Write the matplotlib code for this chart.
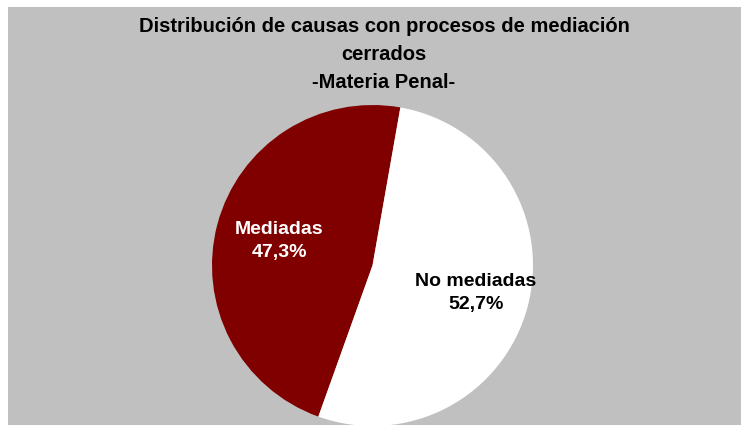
import numpy as np
import matplotlib.pyplot as plt
from matplotlib.patches import Rectangle

# Datos
categorias = ["Mediadas", "No mediadas"]
porcentajes = [47.3, 52.7]
colores = ["#800000", "#FFFFFF"]
colores_texto = ["white", "black"]
titulo = "Distribución de causas con procesos de mediación\ncerrados\n-Materia Penal-"

plt.rcParams['font.family'] = ['Liberation Sans', 'DejaVu Sans']

W, H = 741, 425
fig = plt.figure(figsize=(W / 100, H / 100), dpi=100, facecolor="white")

# Fondo gris
fig.patches.append(Rectangle((8 / W, 0), 1, 1 - 7 / H, transform=fig.transFigure,
                             facecolor="#C0C0C0", edgecolor="none", zorder=-10))

# Título
fig.text(384 / W, 1 - 54.5 / H, titulo, ha="center", va="center", fontsize=14.5,
         fontweight="bold", linespacing=1.6)

# Ejes del pastel (centro y radio en píxeles)
cx, cy, r = 372.5, 265.5, 160.5
ax = fig.add_axes([(cx - r) / W, (H - cy - r) / H, 2 * r / W, 2 * r / H])
ax.set_facecolor("none")
ax.set_zorder(1)

wedges, _ = ax.pie(porcentajes, colors=colores, startangle=80, counterclock=True,
                   wedgeprops=dict(linewidth=0))
ax.set_xlim(-1, 1)
ax.set_ylim(-1, 1)
ax.axis("off")

# Etiquetas
distancias = [0.6, 0.665]
for w, cat, p, c, d in zip(wedges, categorias, porcentajes, colores_texto, distancias):
    ang = np.deg2rad((w.theta1 + w.theta2) / 2)
    ax.text(d * np.cos(ang), d * np.sin(ang), f"{cat}\n{p:.1f}%".replace(".", ","),
            ha="center", va="center", color=c, fontsize=14, fontweight="bold",
            linespacing=1.5)

fig.savefig("out.png", dpi=100, facecolor=fig.get_facecolor())
